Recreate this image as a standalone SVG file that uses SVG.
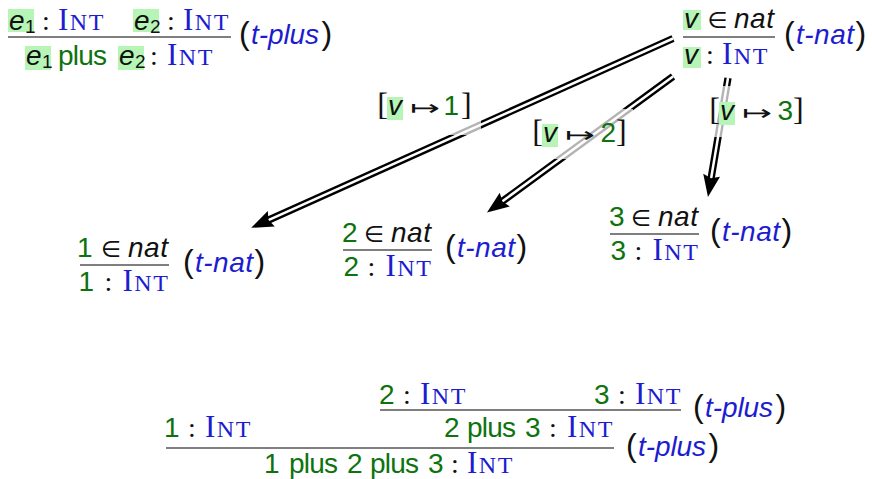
<svg xmlns="http://www.w3.org/2000/svg" width="872" height="479" viewBox="0 0 872 479">
<style>
  .t { font-family: "Liberation Sans", "DejaVu Sans", sans-serif; font-size: 28px; }
  .gr { fill: #0e730e; }
  .bk { fill: #111111; }
  .it { font-style: italic; }
  .sub { font-family: "Liberation Sans", "DejaVu Sans", sans-serif; font-size: 19px; fill: #111111; }
  .int { font-family: "Liberation Serif", serif; font-size: 31px; fill: #1c1cd0; letter-spacing: 1.5px; }
  .sc { font-size: 24px; }
  .col { font-family: "Liberation Serif", serif; font-size: 28px; fill: #111111; text-anchor: middle; }
  .mem { font-family: "DejaVu Sans", sans-serif; font-size: 23px; fill: #111111; text-anchor: middle; }
  .par { font-family: "Liberation Sans", sans-serif; font-size: 32px; fill: #111111; }
  .lab { font-family: "Liberation Sans", "DejaVu Sans", sans-serif; font-size: 28px; font-style: italic; fill: #1c1cd0; }
  .brk { font-family: "Liberation Serif", serif; font-size: 32px; fill: #111111; }
  .map { font-family: "DejaVu Sans", sans-serif; font-size: 21px; fill: #111111; }
  .hl { fill: #b6f5b6; }
  .bar { stroke: #555555; stroke-width: 1.5; }
  .ao { stroke: #000000; stroke-width: 7.3; fill: none; }
  .ai { stroke: #ffffff; stroke-width: 2.5; fill: none; marker-end: url(#ah); }
  .veil { fill: #ffffff; fill-opacity: 0.7; }
</style>
<defs>
  <marker id="ah" markerUnits="userSpaceOnUse" markerWidth="26" markerHeight="22" viewBox="0 -11 26 22" refX="5" refY="0" orient="auto" overflow="visible">
    <path d="M0,-8.5 L22,0 L0,8.5 L3,0 z" fill="#000000"/>
  </marker>
</defs>
<rect width="872" height="479" fill="#ffffff"/>

<!-- connectors -->
<g id="connectors">
  <path class="ao" d="M673,38.5 L266.7,220.9"/>
  <path class="ai" d="M673,38.5 L266.7,220.9"/>
  <path class="ao" d="M673,76.5 L500.7,202.5"/>
  <path class="ai" d="M673,76.5 L500.7,202.5"/>
  <path class="ao" d="M728,78 L710.8,180.2"/>
  <path class="ai" d="M728,78 L710.8,180.2"/>

  <g id="label-1">
    <rect class="veil" x="370" y="83" width="111" height="52"/>
    <rect class="hl" x="387" y="97" width="16" height="23"/>
    <text class="brk" x="377.2" y="115">[</text>
    <text class="t it bk" x="388" y="115">v</text>
    <text class="map" x="410" y="115" textLength="30" lengthAdjust="spacingAndGlyphs">↦</text>
    <text class="t gr" x="443.5" y="115">1</text>
    <text class="brk" x="461" y="115">]</text>
  </g>
  <g id="label-2">
    <rect class="veil" x="526" y="109" width="107" height="50"/>
    <rect class="hl" x="542" y="124" width="16" height="23"/>
    <text class="brk" x="532.2" y="142">[</text>
    <text class="t it bk" x="543" y="142">v</text>
    <text class="map" x="565" y="142" textLength="30" lengthAdjust="spacingAndGlyphs">↦</text>
    <text class="t gr" x="600.4" y="142">2</text>
    <text class="brk" x="616" y="142">]</text>
  </g>
  <g id="label-3">
    <rect class="veil" x="702" y="86" width="108" height="51"/>
    <rect class="hl" x="719" y="102" width="16" height="23"/>
    <text class="brk" x="709.2" y="120">[</text>
    <text class="t it bk" x="720" y="120">v</text>
    <text class="map" x="742" y="120" textLength="30" lengthAdjust="spacingAndGlyphs">↦</text>
    <text class="t gr" x="777.4" y="120">3</text>
    <text class="brk" x="793" y="120">]</text>
  </g>
</g>

<!-- rule t-plus -->
<g id="rule-t-plus">
  <rect class="hl" x="8" y="9" width="26" height="23"/>
  <text class="t it bk" x="9" y="30">e</text>
  <text class="sub" x="25" y="33">1</text>
  <text class="col" x="46" y="30">:</text>
  <text class="int" x="58" y="30">I<tspan class="sc">NT</tspan></text>
  <rect class="hl" x="133" y="9" width="26" height="23"/>
  <text class="t it bk" x="134" y="30">e</text>
  <text class="sub" x="150" y="33">2</text>
  <text class="col" x="171" y="30">:</text>
  <text class="int" x="183" y="30">I<tspan class="sc">NT</tspan></text>
  <line class="bar" x1="8" y1="37" x2="231" y2="37"/>
  <rect class="hl" x="25" y="46" width="26" height="24"/>
  <text class="t it bk" x="26" y="65">e</text>
  <text class="sub" x="42" y="68">1</text>
  <text class="t gr" x="58" y="65" textLength="49">plus</text>
  <rect class="hl" x="118" y="46" width="26" height="24"/>
  <text class="t it bk" x="119" y="65">e</text>
  <text class="sub" x="135" y="68">2</text>
  <text class="col" x="154" y="65">:</text>
  <text class="int" x="167" y="65">I<tspan class="sc">NT</tspan></text>
  <text class="par" x="239" y="44">(</text>
  <text class="lab" x="251" y="44" textLength="68">t-plus</text>
  <text class="par" x="321.5" y="44">)</text>
</g>

<!-- rule t-nat -->
<g id="rule-t-nat">
  <rect class="hl" x="683" y="10" width="18" height="20"/>
  <text class="t it bk" x="684" y="28">v</text>
  <text class="mem" x="717.5" y="28">∈</text>
  <text class="t it bk" x="734" y="28" textLength="40">nat</text>
  <line class="bar" x1="683" y1="37" x2="775" y2="37"/>
  <rect class="hl" x="683" y="47" width="18" height="21"/>
  <text class="t it bk" x="684" y="64">v</text>
  <text class="col" x="710" y="64">:</text>
  <text class="int" x="722" y="64">I<tspan class="sc">NT</tspan></text>
  <text class="par" x="784" y="44">(</text>
  <text class="lab" x="796" y="44" textLength="58">t-nat</text>
  <text class="par" x="855.5" y="44">)</text>
</g>

<!-- instance 1 -->
<g id="nat-1">
  <text class="t gr" x="77" y="257">1</text>
  <text class="mem" x="111" y="257">∈</text>
  <text class="t it bk" x="128" y="257" textLength="40">nat</text>
  <line class="bar" x1="80" y1="265" x2="169" y2="265"/>
  <text class="t gr" x="78.5" y="291">1</text>
  <text class="col" x="108.5" y="291">:</text>
  <text class="int" x="122.5" y="291">I<tspan class="sc">NT</tspan></text>
  <text class="par" x="183" y="272">(</text>
  <text class="lab" x="195" y="272" textLength="58">t-nat</text>
  <text class="par" x="254.5" y="272">)</text>
</g>

<!-- instance 2 -->
<g id="nat-2">
  <text class="t gr" x="342" y="242">2</text>
  <text class="mem" x="374" y="242">∈</text>
  <text class="t it bk" x="391" y="242" textLength="40">nat</text>
  <line class="bar" x1="343" y1="250" x2="432" y2="250"/>
  <text class="t gr" x="343.5" y="276">2</text>
  <text class="col" x="371.5" y="276">:</text>
  <text class="int" x="385.5" y="276">I<tspan class="sc">NT</tspan></text>
  <text class="par" x="445" y="257">(</text>
  <text class="lab" x="457" y="257" textLength="58">t-nat</text>
  <text class="par" x="516.5" y="257">)</text>
</g>

<!-- instance 3 -->
<g id="nat-3">
  <text class="t gr" x="609" y="226">3</text>
  <text class="mem" x="641" y="226">∈</text>
  <text class="t it bk" x="658" y="226" textLength="40">nat</text>
  <line class="bar" x1="610" y1="234" x2="699" y2="234"/>
  <text class="t gr" x="610.5" y="260">3</text>
  <text class="col" x="638.5" y="260">:</text>
  <text class="int" x="652.5" y="260">I<tspan class="sc">NT</tspan></text>
  <text class="par" x="710" y="241">(</text>
  <text class="lab" x="722" y="241" textLength="58">t-nat</text>
  <text class="par" x="781.5" y="241">)</text>
</g>

<!-- final derivation -->
<g id="derivation">
  <text class="t gr" x="379" y="404">2</text>
  <text class="col" x="407" y="404">:</text>
  <text class="int" x="420" y="404">I<tspan class="sc">NT</tspan></text>
  <text class="t gr" x="594" y="404">3</text>
  <text class="col" x="622" y="404">:</text>
  <text class="int" x="635" y="404">I<tspan class="sc">NT</tspan></text>
  <line class="bar" x1="380" y1="410" x2="681" y2="410"/>
  <text class="par" x="693" y="417">(</text>
  <text class="lab" x="705" y="417" textLength="68">t-plus</text>
  <text class="par" x="775.5" y="417">)</text>

  <text class="t gr" x="164" y="437">1</text>
  <text class="col" x="192" y="437">:</text>
  <text class="int" x="205" y="437">I<tspan class="sc">NT</tspan></text>
  <text class="t gr" x="444" y="437">2</text>
  <text class="t gr" x="467" y="437" textLength="49">plus</text>
  <text class="t gr" x="525" y="437">3</text>
  <text class="col" x="553" y="437">:</text>
  <text class="int" x="567" y="437">I<tspan class="sc">NT</tspan></text>
  <line class="bar" x1="166" y1="448" x2="614" y2="448"/>
  <text class="par" x="626" y="456">(</text>
  <text class="lab" x="638" y="456" textLength="68">t-plus</text>
  <text class="par" x="708.5" y="456">)</text>

  <text class="t gr" x="264" y="473">1</text>
  <text class="t gr" x="289" y="473" textLength="49">plus</text>
  <text class="t gr" x="347" y="473">2</text>
  <text class="t gr" x="370" y="473" textLength="49">plus</text>
  <text class="t gr" x="428" y="473">3</text>
  <text class="col" x="455" y="473">:</text>
  <text class="int" x="467" y="473">I<tspan class="sc">NT</tspan></text>
</g>
</svg>
